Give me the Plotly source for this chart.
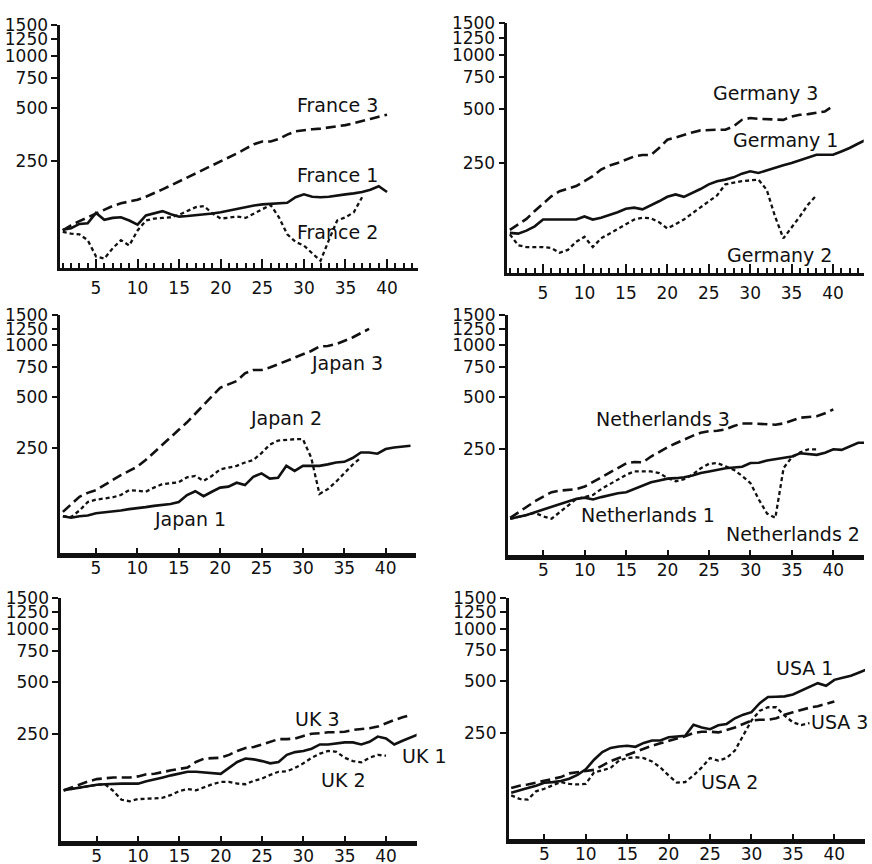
import math
import plotly.graph_objects as go

# ---------------- data (index values) ----------------
france_1 = [101, 103, 109, 110, 126, 115, 118, 119, 114, 108,
            122, 126, 129, 124, 120, 121, 122, 123, 125, 127,
            130, 133, 136, 139, 141, 142, 143, 144, 155, 161,
            156, 155, 156, 159, 161, 163, 166, 171, 179, 166]
france_2 = [98, 96, 95, 88, 71, 69, 79, 88, 82, 100,
            114, 117, 118, 119, 123, 130, 136, 138, 125, 117,
            119, 120, 118, 125, 131, 140, 119, 95, 86, 82,
            74, 67, 88, 114, 119, 127, 155]
france_3 = [100, 107, 113, 119, 124, 131, 138, 143, 146, 150,
            156, 163, 172, 181, 191, 201, 212, 223, 235, 248,
            261, 277, 294, 312, 323, 323, 334, 354, 370, 376,
            380, 383, 388, 394, 401, 411, 421, 435, 448, 460]

germany_1 = [102, 101, 105, 111, 121, 121, 121, 121, 121, 126,
             121, 124, 128, 133, 139, 141, 138, 145, 153, 162,
             167, 162, 170, 179, 190, 198, 202, 208, 218, 225,
             220, 228, 235, 243, 250, 259, 266, 278, 278, 278,
             290, 303, 320, 337]
germany_2 = [100, 87, 85, 85, 85, 84, 79, 82, 91, 97,
             85, 95, 101, 108, 115, 121, 124, 123, 117, 108,
             114, 121, 131, 141, 152, 165, 190, 194, 198, 200,
             202, 177, 126, 95, 109, 126, 147, 165]
germany_3 = [106, 114, 122, 135, 149, 163, 174, 180, 186, 198,
             211, 230, 242, 250, 261, 272, 277, 277, 303, 337,
             347, 359, 370, 380, 383, 383, 383, 400, 435, 445,
             441, 439, 435, 435, 454, 464, 468, 474, 484, 520]

japan_1 = [100, 98, 100, 101, 104, 105, 107, 108, 110, 111,
           113, 115, 116, 118, 121, 133, 140, 131, 139, 147,
           149, 157, 152, 170, 178, 166, 168, 197, 184, 197,
           197, 197, 201, 206, 208, 219, 236, 236, 232, 247,
           252, 256, 258]
japan_2 = [100, 99, 108, 121, 125, 127, 129, 133, 142, 141,
           139, 147, 154, 156, 158, 169, 172, 161, 172, 188,
           193, 197, 206, 213, 234, 262, 277, 280, 282, 282,
           220, 135, 144, 159, 178, 200, 220]
japan_3 = [106, 118, 130, 137, 142, 152, 163, 174, 184, 195,
           213, 236, 264, 290, 320, 354, 398, 450, 508, 564,
           590, 617, 684, 716, 716, 740, 773, 809, 846, 885,
           925, 981, 990, 1013, 1060, 1109, 1177, 1245]

netherlands_1 = [99, 101, 104, 108, 112, 116, 120, 124, 129, 131,
                 128, 132, 136, 139, 141, 147, 154, 161, 165, 169,
                 170, 172, 176, 182, 186, 190, 194, 196, 198, 208,
                 209, 215, 219, 222, 227, 237, 234, 232, 239, 250,
                 248, 259, 273, 273]
netherlands_2 = [99, 101, 104, 107, 102, 99, 108, 118, 129, 132,
                 136, 147, 157, 168, 178, 186, 186, 186, 182, 170,
                 163, 168, 178, 194, 206, 208, 199, 190, 175, 159,
                 128, 106, 100, 195, 225, 240, 250, 250]
netherlands_3 = [100, 108, 117, 125, 133, 141, 144, 146, 147, 152,
                 161, 172, 183, 195, 207, 211, 210, 227, 242, 257,
                 271, 286, 299, 312, 318, 320, 326, 341, 353, 353,
                 350, 347, 347, 353, 366, 381, 385, 389, 404, 426]

uk_1 = [119, 121, 124, 126, 128, 129, 130, 130, 130, 130,
        134, 137, 141, 145, 148, 152, 152, 151, 150, 148,
        160, 173, 181, 179, 175, 170, 173, 190, 197, 200,
        206, 218, 218, 221, 224, 224, 218, 226, 242, 236,
        218, 229, 239, 250]
uk_2 = [119, 121, 124, 126, 128, 129, 118, 105, 103, 106,
        106, 107, 108, 112, 118, 121, 119, 124, 129, 133,
        133, 130, 129, 135, 139, 146, 152, 153, 160, 170,
        183, 193, 200, 198, 183, 175, 172, 183, 190, 188]
uk_3 = [119, 124, 129, 134, 138, 140, 141, 141, 141, 143,
        147, 148, 152, 155, 158, 161, 173, 181, 182, 183,
        190, 200, 208, 211, 218, 226, 234, 234, 236, 244,
        251, 253, 256, 256, 258, 264, 267, 270, 276, 289,
        301, 312, 322]

usa_1 = [113, 117, 120, 124, 129, 130, 132, 136, 143, 154,
         175, 194, 205, 209, 211, 208, 219, 226, 226, 236,
         238, 241, 279, 269, 263, 277, 282, 304, 319, 330,
         372, 404, 405, 407, 417, 438, 464, 485, 469, 507,
         522, 535, 559, 584]
usa_2 = [109, 104, 103, 115, 119, 124, 130, 127, 126, 127,
         148, 152, 157, 173, 179, 181, 179, 171, 158, 142,
         129, 130, 142, 158, 179, 173, 179, 198, 243, 295,
         336, 352, 352, 315, 288, 278, 285]
usa_3 = [120, 124, 126, 129, 132, 135, 139, 146, 148, 150,
         153, 162, 172, 179, 187, 194, 202, 211, 218, 225,
         231, 239, 250, 254, 254, 252, 260, 269, 282, 295,
         298, 298, 304, 319, 329, 340, 350, 357, 368, 380]

y_tick_values = [250, 500, 750, 1000, 1250, 1500]
y_tick_labels = ["250", "500", "750", "1000", "1250", "1500"]
x_tick_values = [5, 10, 15, 20, 25, 30, 35, 40]
x_tick_labels = ["5", "10", "15", "20", "25", "30", "35", "40"]

countries = ["France", "Germany", "Japan", "Netherlands", "UK", "USA"]
series = {
    "France": [france_1, france_2, france_3],
    "Germany": [germany_1, germany_2, germany_3],
    "Japan": [japan_1, japan_2, japan_3],
    "Netherlands": [netherlands_1, netherlands_2, netherlands_3],
    "UK": [uk_1, uk_2, uk_3],
    "USA": [usa_1, usa_2, usa_3],
}
# label positions (x in years, y in index value)
label_pos = {
    "France": [(34.1, 207), (34.1, 98), (34.1, 521)],
    "Germany": [(34.3, 337), (33.5, 77), (31.9, 612)],
    "Japan": [(16.4, 96), (28.0, 377), (35.3, 782)],
    "Netherlands": [(17.6, 104), (35.1, 81), (19.4, 375)],
    "UK": [(44.6, 188), (34.8, 137), (31.7, 305)],
    "USA": [(36.4, 597), (27.3, 130), (40.6, 288)],
}

# ---------------- layout geometry (pixels in 872x864 canvas) ----------------
W, H = 872, 864
X_RANGE = [0.7, 43.7]
Y_RANGE = [1.785, 3.1765]
px_x = [(60.25, 417.8), (507.4, 863.7), (60.4, 416.3), (507.7, 864.0), (61.2, 416.6), (508.7, 865.0)]
px_y = [(25.0, 268.0), (23.3, 273.0), (315.0, 553.0), (315.0, 555.0), (598.3, 841.0), (598.3, 839.0)]

INK = "#111111"
FONT = "DejaVu Sans"
styles = [dict(width=2.6, dash="solid"),
          dict(width=2.3, dash="4px,3px"),
          dict(width=2.6, dash="10px,5px")]

fig = go.Figure()
layout = dict(width=W, height=H, margin=dict(l=0, r=0, t=0, b=0, autoexpand=False),
              paper_bgcolor="white", plot_bgcolor="white", showlegend=False)
annotations = []

for i, c in enumerate(countries):
    k = "" if i == 0 else str(i + 1)
    xa, ya = "x" + k, "y" + k
    for j, vals in enumerate(series[c]):
        fig.add_trace(go.Scatter(
            x=list(range(1, len(vals) + 1)), y=vals, mode="lines",
            line=dict(color=INK, width=styles[j]["width"], dash=styles[j]["dash"]),
            xaxis=xa, yaxis=ya, name=f"{c} {j + 1}", hoverinfo="x+y+name"))
        lx, ly = label_pos[c][j]
        annotations.append(dict(
            x=(lx - X_RANGE[0]) / (X_RANGE[1] - X_RANGE[0]),
            y=(math.log10(ly) - Y_RANGE[0]) / (Y_RANGE[1] - Y_RANGE[0]),
            xref=xa + " domain", yref=ya + " domain",
            text=f"{c} {j + 1}", showarrow=False,
            xanchor="center", yanchor="middle",
            font=dict(family=FONT, size=19, color=INK)))
    top_row = i < 2
    xaxis = dict(domain=[px_x[i][0] / W, px_x[i][1] / W], anchor=ya,
                 range=X_RANGE, tickmode="array", automargin=False,
                 tickvals=x_tick_values, ticktext=x_tick_labels,
                 ticks="inside", ticklen=9 if top_row else 5, tickwidth=2, tickcolor=INK,
                 ticklabelstandoff=3 if top_row else -4,
                 showline=True, linecolor=INK, linewidth=2.6 if top_row else 4.5,
                 showgrid=False, zeroline=False,
                 tickfont=dict(family=FONT, size=17, color=INK))
    if top_row:
        xaxis["minor"] = dict(tick0=0, dtick=1, ticks="inside", ticklen=5,
                              tickwidth=2, tickcolor=INK, showgrid=False)
    yaxis = dict(domain=[1 - px_y[i][1] / H, 1 - px_y[i][0] / H], anchor=xa,
                 type="log", range=Y_RANGE, tickmode="array", automargin=False,
                 tickvals=y_tick_values, ticktext=y_tick_labels,
                 ticks="outside", ticklen=6, tickwidth=2, tickcolor=INK,
                 showline=True, linecolor=INK, linewidth=2.6,
                 showgrid=False, zeroline=False,
                 tickfont=dict(family=FONT, size=17, color=INK))
    layout["xaxis" + k] = xaxis
    layout["yaxis" + k] = yaxis

layout["annotations"] = annotations
fig.update_layout(**layout)
fig.write_html("out.html", config={"displayModeBar": False},
               post_script="document.body.style.margin='0';document.body.style.overflow='hidden';")
